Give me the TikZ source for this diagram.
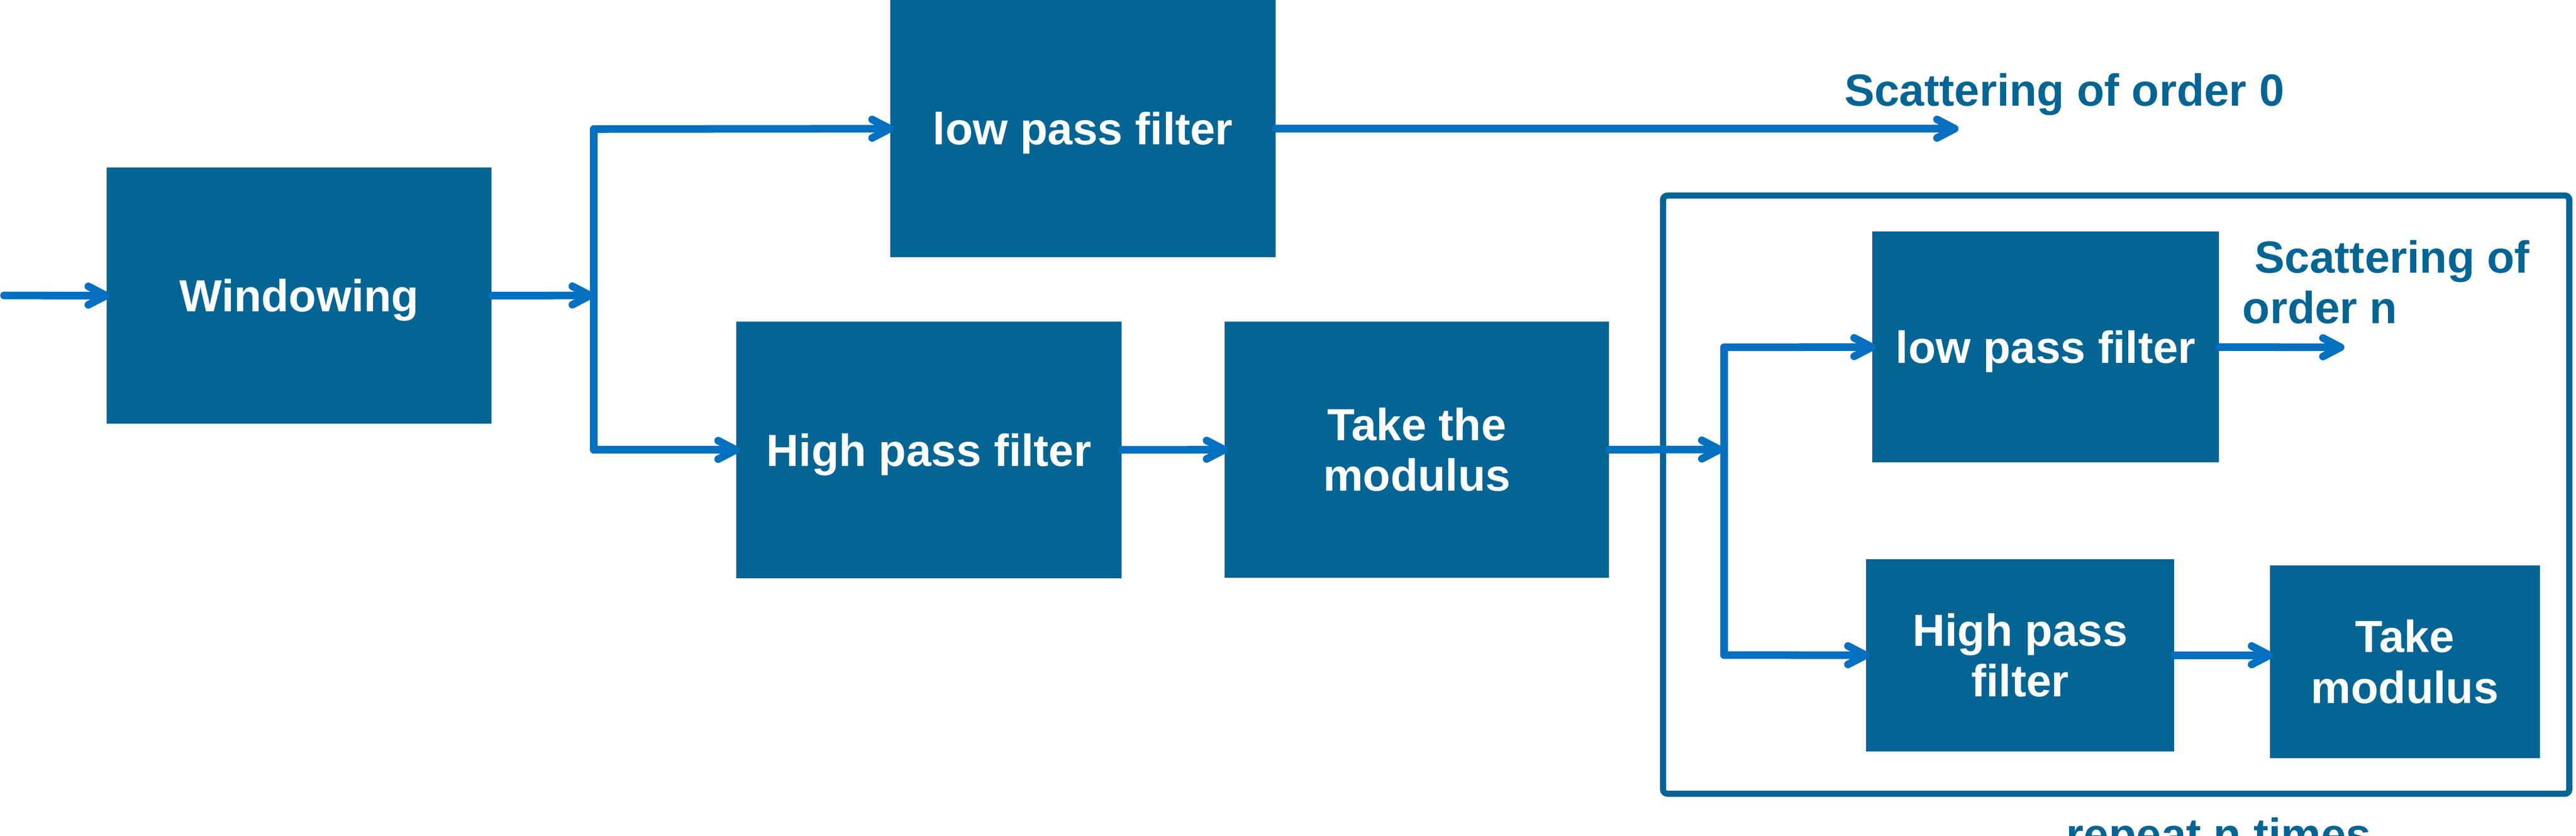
\documentclass[tikz,border=0pt]{standalone}
\usepackage{fontspec}
\setmainfont{Liberation Sans}
\usetikzlibrary{arrows.meta}
\definecolor{boxblue}{RGB}{4,101,148}
\definecolor{arrowblue}{RGB}{5,112,192}
\tikzset{
	block/.style={fill=boxblue, text=white, font=\bfseries\fontsize{35.3}{39.8}\selectfont, align=center, inner sep=0pt},
	oneline/.style={text height=1.15cm, text depth=0.26cm},
	flow/.style={draw=arrowblue, line width=0.21cm, line cap=round, line join=round, shorten >=-0.1cm, -{Straight Barb[length=0.49cm, width=0.51cm, round]}},
	wire/.style={draw=arrowblue, line width=0.21cm, line cap=round},
	frame/.style={draw=boxblue, line width=0.17cm, rounded corners=0.12cm, inner sep=0pt},
	caption/.style={text=boxblue, font=\bfseries\fontsize{35.3}{39.8}\selectfont, inner sep=0pt}
}
\begin{document}
\begin{tikzpicture}
			%%%%% START %%%%%
			
			\useasboundingbox (0,0) rectangle (71.09,-23.05);
			
			\node[block, oneline, minimum width=10.63cm, minimum height=7.07cm] (win) at (8.255,-8.155) {Windowing};
			\node[block, oneline, minimum width=10.63cm, minimum height=7.10cm] (lpf0) at (29.885,-3.55) {low pass filter};
			\node[block, oneline, minimum width=10.63cm, minimum height=7.08cm] (hpf0) at (25.635,-12.41) {High pass filter};
			\node[block, minimum width=10.60cm, minimum height=7.07cm] (mod0) at (39.10,-12.405) {Take the\\modulus};
			
			\node[frame, minimum width=25.01cm, minimum height=16.50cm] (rep) at (58.40,-13.645) {};
			\node[block, oneline, minimum width=9.57cm, minimum height=6.37cm] (lpfn) at (56.455,-9.575) {low pass filter};
			\node[block, minimum width=8.50cm, minimum height=5.31cm] (hpfn) at (55.75,-18.075) {High pass\\filter};
			\node[block, minimum width=7.45cm, minimum height=5.31cm] (modn) at (66.365,-18.255) {Take\\modulus};
			
			\coordinate (in) at (0.11,-8.15);
			\coordinate (s0) at (16.29,-8.15);
			\coordinate (s0top) at (16.39,-3.56);
			\coordinate (s0bot) at (16.39,-12.41);
			\coordinate (out0) at (53.95,-3.55);
			\coordinate (s1) at (47.46,-12.40);
			\coordinate (s1top) at (47.58,-9.58);
			\coordinate (s1bot) at (47.58,-18.07);
			\coordinate (outn) at (64.60,-9.58);
			
			\draw[flow] (in) -- (win.west);
			\draw[flow] (win.east) -- (s0);
			\draw[wire] (s0top) -- (s0bot);
			\draw[flow] (s0top) -- (lpf0.west);
			\draw[flow] (s0bot) -- (hpf0.west);
			\draw[flow] (lpf0.east) -- (out0);
			\draw[flow] (hpf0.east) -- (mod0.west);
			
			\draw[flow] (mod0.east) -- (s1);
			\draw[wire] (s1top) -- (s1bot);
			\draw[flow] (s1top) -- (lpfn.west);
			\draw[flow] (s1bot) -- (hpfn.west);
			\draw[flow] (lpfn.east) -- (outn);
			\draw[flow] (hpfn.east) -- (hpfn.east -| modn.west);
			
			\node[caption, anchor=base] (sc0) at (56.97,-2.92) {Scattering of order 0};
			\node[caption, anchor=base west, align=left] (scn) at (61.88,-8.92) {\hspace*{0.34cm}Scattering of\\order n};
			\node[caption, anchor=base] (times) at (61.23,-23.45) {repeat n times};
			
			%%%%% END %%%%%
\end{tikzpicture}
\end{document}
